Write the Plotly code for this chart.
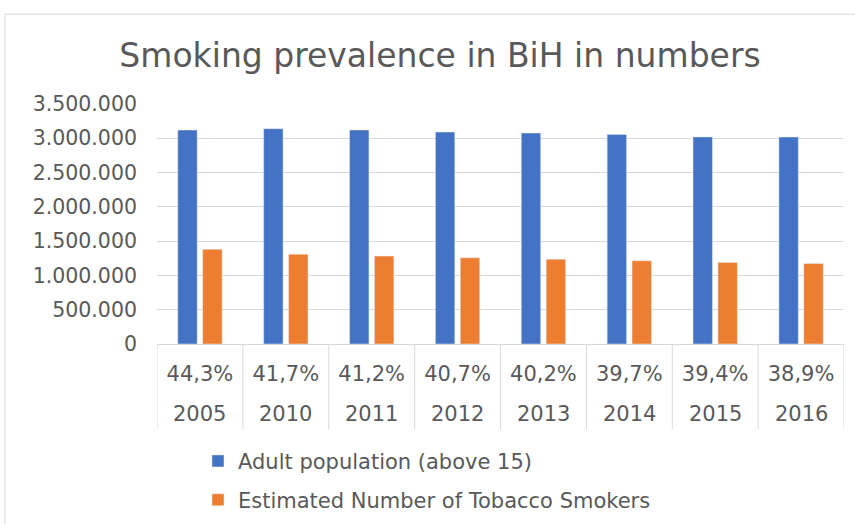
import plotly.graph_objects as go

years = ["2005", "2010", "2011", "2012", "2013", "2014", "2015", "2016"]
prevalence = ["44,3%", "41,7%", "41,2%", "40,7%", "40,2%", "39,7%", "39,4%", "38,9%"]
adult_population = [3120000, 3139000, 3120000, 3091000, 3077000, 3057000, 3020000, 3018000]
smokers = [1382000, 1309000, 1282000, 1258000, 1237000, 1214000, 1190000, 1174000]
y_ticks = [0, 500000, 1000000, 1500000, 2000000, 2500000, 3000000, 3500000]
y_tick_labels = ["0", "500.000", "1.000.000", "1.500.000", "2.000.000", "2.500.000", "3.000.000", "3.500.000"]

FONT = "DejaVu Sans"
GREY = "#595959"
LINE = "#d9d9d9"
W, H = 855, 524
L, T, B = 157, 104, 179.5
PLOT_RIGHT = 844           # right edge of the plotting area in px
pw = W - L                 # paper width (margin r = 0)
ph = H - T - B


def px_x(x):
    return (x - L) / pw


def px_y(y):
    return (H - B - y) / ph


fig = go.Figure()
fig.add_trace(go.Bar(x=years, y=adult_population, name="Adult population (above 15)",
                     marker_color="#4472C4", legend="legend"))
fig.add_trace(go.Bar(x=years, y=smokers, name="Estimated Number of Tobacco Smokers",
                     marker_color="#ED7D31", legend="legend2"))

legend_common = dict(orientation="v", xanchor="left", yanchor="middle",
                     font=dict(family=FONT, size=21, color=GREY), bgcolor="rgba(0,0,0,0)")

fig.update_layout(
    width=W, height=H,
    margin=dict(l=L, r=0, t=T, b=B),
    paper_bgcolor="white", plot_bgcolor="white",
    barmode="group", bargap=0.42, bargroupgap=0.22,
    font=dict(family=FONT, color=GREY),
    title=dict(text="Smoking prevalence in BiH in numbers", font=dict(family=FONT, size=33, color=GREY),
               x=440 / W, xref="container", xanchor="center", y=1 - 55 / H, yref="container",
               yanchor="middle"),
    showlegend=True,
    legend=dict(x=px_x(198), y=px_y(462), **legend_common),
    legend2=dict(x=px_x(198), y=px_y(501), **legend_common),
    xaxis=dict(type="category", categoryorder="array", categoryarray=years,
               domain=[0, px_x(PLOT_RIGHT)],
               tickvals=years, ticktext=prevalence,
               showgrid=False, showline=True, linecolor=LINE, linewidth=1,
               tickfont=dict(family=FONT, size=21, color=GREY), ticks="", ticklabelstandoff=11,
               range=[-0.5, len(years) - 0.5]),
    yaxis=dict(range=[0, 3500000], tickvals=y_ticks, ticktext=y_tick_labels, showgrid=True,
               gridcolor=LINE, gridwidth=1, zeroline=False, showline=False,
               tickfont=dict(family=FONT, size=20.5, color=GREY), ticklabelstandoff=19),
)

# year labels (outer category level), placed at each category's index on the x axis
for i, yr in enumerate(years):
    fig.add_annotation(x=i, xref="x", y=px_y(415), yref="paper", text=yr, showarrow=False,
                       xanchor="center", yanchor="middle",
                       font=dict(family=FONT, size=21, color=GREY))

# category dividers
for i in range(len(years) + 1):
    fig.add_shape(type="line", xref="x", yref="paper", x0=i - 0.5, x1=i - 0.5,
                  y0=0, y1=px_y(430), line=dict(color=LINE, width=1))

# chart frame
fig.add_shape(type="rect", xref="paper", yref="paper",
              x0=px_x(5), x1=px_x(870), y0=px_y(14), y1=px_y(540),
              line=dict(color=LINE, width=1), fillcolor="rgba(0,0,0,0)", layer="below")

fig.write_html("out.html", config={"displayModeBar": False},
               post_script="document.body.style.margin='0';")
